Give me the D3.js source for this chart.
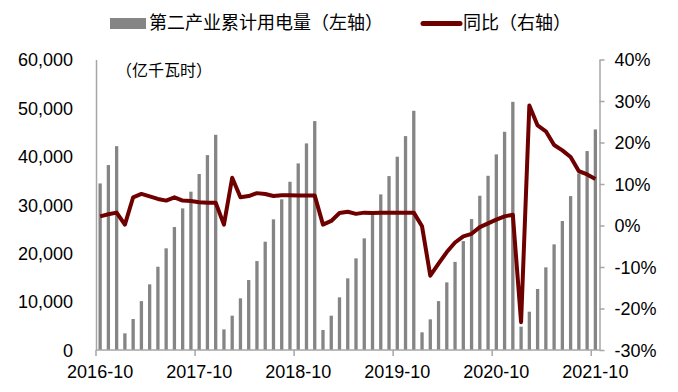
<!DOCTYPE html>
<html>
<head>
<meta charset="utf-8">
<script src="https://cdn.jsdelivr.net/npm/d3@7"></script>
<style>
  body { margin: 0; background: #fff; }
  svg text { font-family: "Liberation Sans", Arial, "Noto Sans CJK SC", sans-serif; fill: #000; }
  .cjk { font-family: "Noto Sans CJK SC", "Liberation Sans", sans-serif; }
</style>
</head>
<body>
<div class="chart-container"></div>
<script>
// months, 2016-10 .. 2021-10
const months = [
  "2016-10","2016-11","2016-12",
  "2017-01","2017-02","2017-03","2017-04","2017-05","2017-06","2017-07","2017-08","2017-09","2017-10","2017-11","2017-12",
  "2018-01","2018-02","2018-03","2018-04","2018-05","2018-06","2018-07","2018-08","2018-09","2018-10","2018-11","2018-12",
  "2019-01","2019-02","2019-03","2019-04","2019-05","2019-06","2019-07","2019-08","2019-09","2019-10","2019-11","2019-12",
  "2020-01","2020-02","2020-03","2020-04","2020-05","2020-06","2020-07","2020-08","2020-09","2020-10","2020-11","2020-12",
  "2021-01","2021-02","2021-03","2021-04","2021-05","2021-06","2021-07","2021-08","2021-09","2021-10"
];

// 第二产业累计用电量 (亿千瓦时)
const cumUsage = [
  34400, 38200, 42100,
  3440, 6400, 10100, 13560, 17200, 21000, 25400, 29250, 32700, 36350, 40250, 44450,
  4260, 7090, 10670, 14450, 18370, 22370, 26990, 31120, 34750, 38540, 42670, 47280,
  4130, 7090, 10880, 14800, 18930, 23060, 27870, 32140, 35920, 39920, 44180, 49410,
  3650, 6330, 10100, 13970, 18200, 22500, 27040, 31860, 35980, 40400, 45070, 51260,
  4820, 7910, 12600, 17070, 21820, 26640, 31790, 36480, 41090, 45560
];

// 同比 (%)
const yoy = [
  2.2, 2.7, 3.1,
  0.2, 6.8, 7.6, 7.0, 6.4, 6.0, 6.8, 6.0, 5.9, 5.6, 5.5, 5.5,
  0.2, 11.5, 6.8, 7.1, 7.8, 7.6, 7.1, 7.3, 7.3, 7.2, 7.2, 7.2,
  0.2, 1.1, 3.0, 3.3, 2.8, 3.1, 3.0, 3.1, 3.1, 3.1, 3.1, 3.1,
  -0.2, -12.1, -9.2, -6.4, -4.1, -2.6, -2.0, -0.4, 0.5, 1.4, 2.2, 2.6,
  -23.3, 28.9, 24.1, 22.7, 19.4, 18.1, 16.5, 13.1, 12.3, 11.2
];

const xTickLabels = ["2016-10", "2017-10", "2018-10", "2019-10", "2020-10", "2021-10"];
const leftTicks = [0, 10000, 20000, 30000, 40000, 50000, 60000];
const rightTicks = [-30, -20, -10, 0, 10, 20, 30, 40];

const width = 678;
const height = 392;
const plot = { left: 96, right: 599.5, top: 59.5, bottom: 350 };
const barColor = "#858585";
const lineColor = "#6e0000";
const axisColor = "#a6a6a6";

const svg = d3.select(".chart-container")
  .append("svg")
  .attr("width", width)
  .attr("height", height);

const x = d3.scaleBand()
  .domain(months)
  .range([plot.left, plot.right])
  .paddingInner(0.6)
  .paddingOuter(0.3);

const yLeft = d3.scaleLinear()
  .domain([0, 60000])
  .range([plot.bottom, plot.top]);

const yRight = d3.scaleLinear()
  .domain([-30, 40])
  .range([plot.bottom, plot.top]);

// bars
svg.append("g")
  .attr("class", "bars")
  .selectAll("rect")
  .data(months)
  .enter()
  .append("rect")
  .attr("x", d => x(d))
  .attr("y", (d, i) => yLeft(cumUsage[i]))
  .attr("width", x.bandwidth())
  .attr("height", (d, i) => plot.bottom - yLeft(cumUsage[i]))
  .attr("fill", barColor);

// left axis
const leftAxis = svg.append("g")
  .attr("transform", `translate(${plot.left},0)`)
  .call(d3.axisLeft(yLeft).tickValues(leftTicks).tickFormat(d3.format(",")).tickSize(0).tickPadding(23));
leftAxis.select(".domain").attr("stroke", axisColor).attr("stroke-width", 1.5);
leftAxis.selectAll("text").attr("font-size", 18).attr("dy", "0.35em");

// right axis
const rightAxis = svg.append("g")
  .attr("transform", `translate(${plot.right},0)`)
  .call(d3.axisRight(yRight).tickValues(rightTicks).tickFormat(d => d + "%").tickSize(5).tickSizeOuter(0).tickPadding(10));
rightAxis.select(".domain").attr("stroke", axisColor).attr("stroke-width", 1.5);
rightAxis.selectAll("line").attr("stroke", axisColor).attr("stroke-width", 1.5);
rightAxis.selectAll("text").attr("font-size", 18).attr("dy", "0.35em");

// bottom axis: tick at left edge of each labelled month, label centred on it
const step = x.step();
const xAxisG = svg.append("g").attr("class", "x-axis");
xAxisG.append("line")
  .attr("x1", plot.left).attr("x2", plot.right)
  .attr("y1", plot.bottom).attr("y2", plot.bottom)
  .attr("stroke", axisColor).attr("stroke-width", 1.5);
xAxisG.selectAll(".tick")
  .data(xTickLabels)
  .enter()
  .append("line")
  .attr("x1", d => x(d) + x.bandwidth() / 2 - step / 2)
  .attr("x2", d => x(d) + x.bandwidth() / 2 - step / 2)
  .attr("y1", plot.bottom)
  .attr("y2", plot.bottom + 6)
  .attr("stroke", axisColor).attr("stroke-width", 1.5);
xAxisG.selectAll("text")
  .data(xTickLabels)
  .enter()
  .append("text")
  .attr("x", d => x(d) + x.bandwidth() / 2)
  .attr("y", 378)
  .attr("text-anchor", "middle")
  .attr("font-size", 18)
  .text(d => d);

// yoy line
const line = d3.line()
  .x(d => x(d[0]) + x.bandwidth() / 2)
  .y(d => yRight(d[1]));

svg.append("path")
  .datum(months.map((m, i) => [m, yoy[i]]))
  .attr("fill", "none")
  .attr("stroke", lineColor)
  .attr("stroke-width", 4)
  .attr("stroke-linejoin", "round")
  .attr("d", line);

// unit label
svg.append("text")
  .attr("class", "cjk")
  .attr("x", 116)
  .attr("y", 76)
  .attr("font-size", 16)
  .text("（亿千瓦时）");

// legend
svg.append("rect")
  .attr("x", 110).attr("y", 18)
  .attr("width", 36).attr("height", 11)
  .attr("fill", barColor);
svg.append("text")
  .attr("class", "cjk")
  .attr("x", 149).attr("y", 29)
  .attr("font-size", 18)
  .text("第二产业累计用电量（左轴）");
svg.append("line")
  .attr("x1", 423).attr("x2", 460)
  .attr("y1", 23.5).attr("y2", 23.5)
  .attr("stroke", lineColor).attr("stroke-width", 5)
  .attr("stroke-linecap", "round");
svg.append("text")
  .attr("class", "cjk")
  .attr("x", 463).attr("y", 29)
  .attr("font-size", 18)
  .text("同比（右轴）");
</script>
</body>
</html>
